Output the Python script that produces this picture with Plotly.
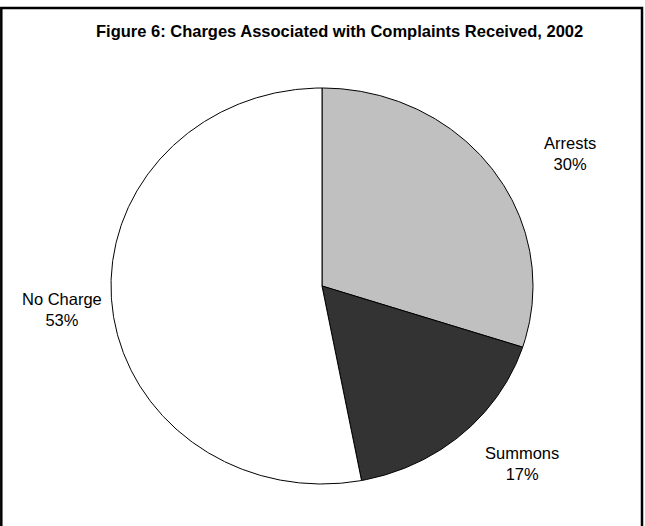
import numpy as np
import plotly.graph_objects as go

# Data
categories = ["Arrests", "Summons", "No Charge"]
shares = [30, 17, 53]
slice_colors = ["#c0c0c0", "#333333", "#ffffff"]

title_text = "Figure 6: Charges Associated with Complaints Received, 2002"

W, H = 645, 526
cx, cy = 322, 286      # pie centre (pixels)
rx, ry = 211, 198      # pie radii (pixels) - the original pie is slightly oval

fig = go.Figure()

# Slices: angles come from the cumulative shares (clockwise from 12 o'clock)
total = sum(shares)
start = 0.0
for cat, val, col in zip(categories, shares, slice_colors):
    a0 = start / total * 2 * np.pi
    a1 = (start + val) / total * 2 * np.pi
    n = max(int(val * 8), 20)
    th = np.linspace(a0, a1, n)
    xs = np.concatenate([[0.0], np.sin(th), [0.0]])
    ys = np.concatenate([[0.0], np.cos(th), [0.0]])
    fig.add_trace(go.Scatter(
        x=xs, y=ys, mode="lines", fill="toself", fillcolor=col,
        line=dict(color="#000000", width=1),
        name=cat, hoveron="fills", hoverinfo="text",
        text=f"{cat}: {val}%", showlegend=False,
    ))
    start += val

# label positions (pixels) for each category
label_pos = {"Arrests": (570, 153), "Summons": (522, 463), "No Charge": (62, 309)}
for cat, val in zip(categories, shares):
    x, y = label_pos[cat]
    fig.add_annotation(
        x=x / W, y=1 - y / H, xref="paper", yref="paper",
        text=f"{cat}<br>{val}%", showarrow=False,
        font=dict(family="Liberation Sans, Arial", size=16.5, color="#000000"),
        align="center", xanchor="center", yanchor="middle",
    )

fig.add_annotation(
    x=339 / W, y=1 - 31 / H, xref="paper", yref="paper",
    text=f"<b>{title_text}</b>", showarrow=False,
    font=dict(family="Liberation Sans, Arial", size=16.5, color="#000000"),
    xanchor="center", yanchor="middle",
)

fig.add_shape(type="rect", xref="paper", yref="paper",
              x0=1.3 / W, x1=642 / W, y0=-0.02, y1=1 - 8 / H,
              line=dict(color="#000000", width=2.5), fillcolor="rgba(0,0,0,0)")

# axes map one unit to the pie radii
fig.update_xaxes(range=[-cx / rx, (W - cx) / rx], visible=False, fixedrange=True)
fig.update_yaxes(range=[-(H - cy) / ry, cy / ry], visible=False, fixedrange=True)

fig.update_layout(
    width=W, height=H,
    margin=dict(l=0, r=0, t=0, b=0),
    paper_bgcolor="#ffffff", plot_bgcolor="#ffffff",
    hovermode="closest",
)

fig.write_html("out.html", config={"displayModeBar": False},
               post_script="document.body.style.margin='0';")
